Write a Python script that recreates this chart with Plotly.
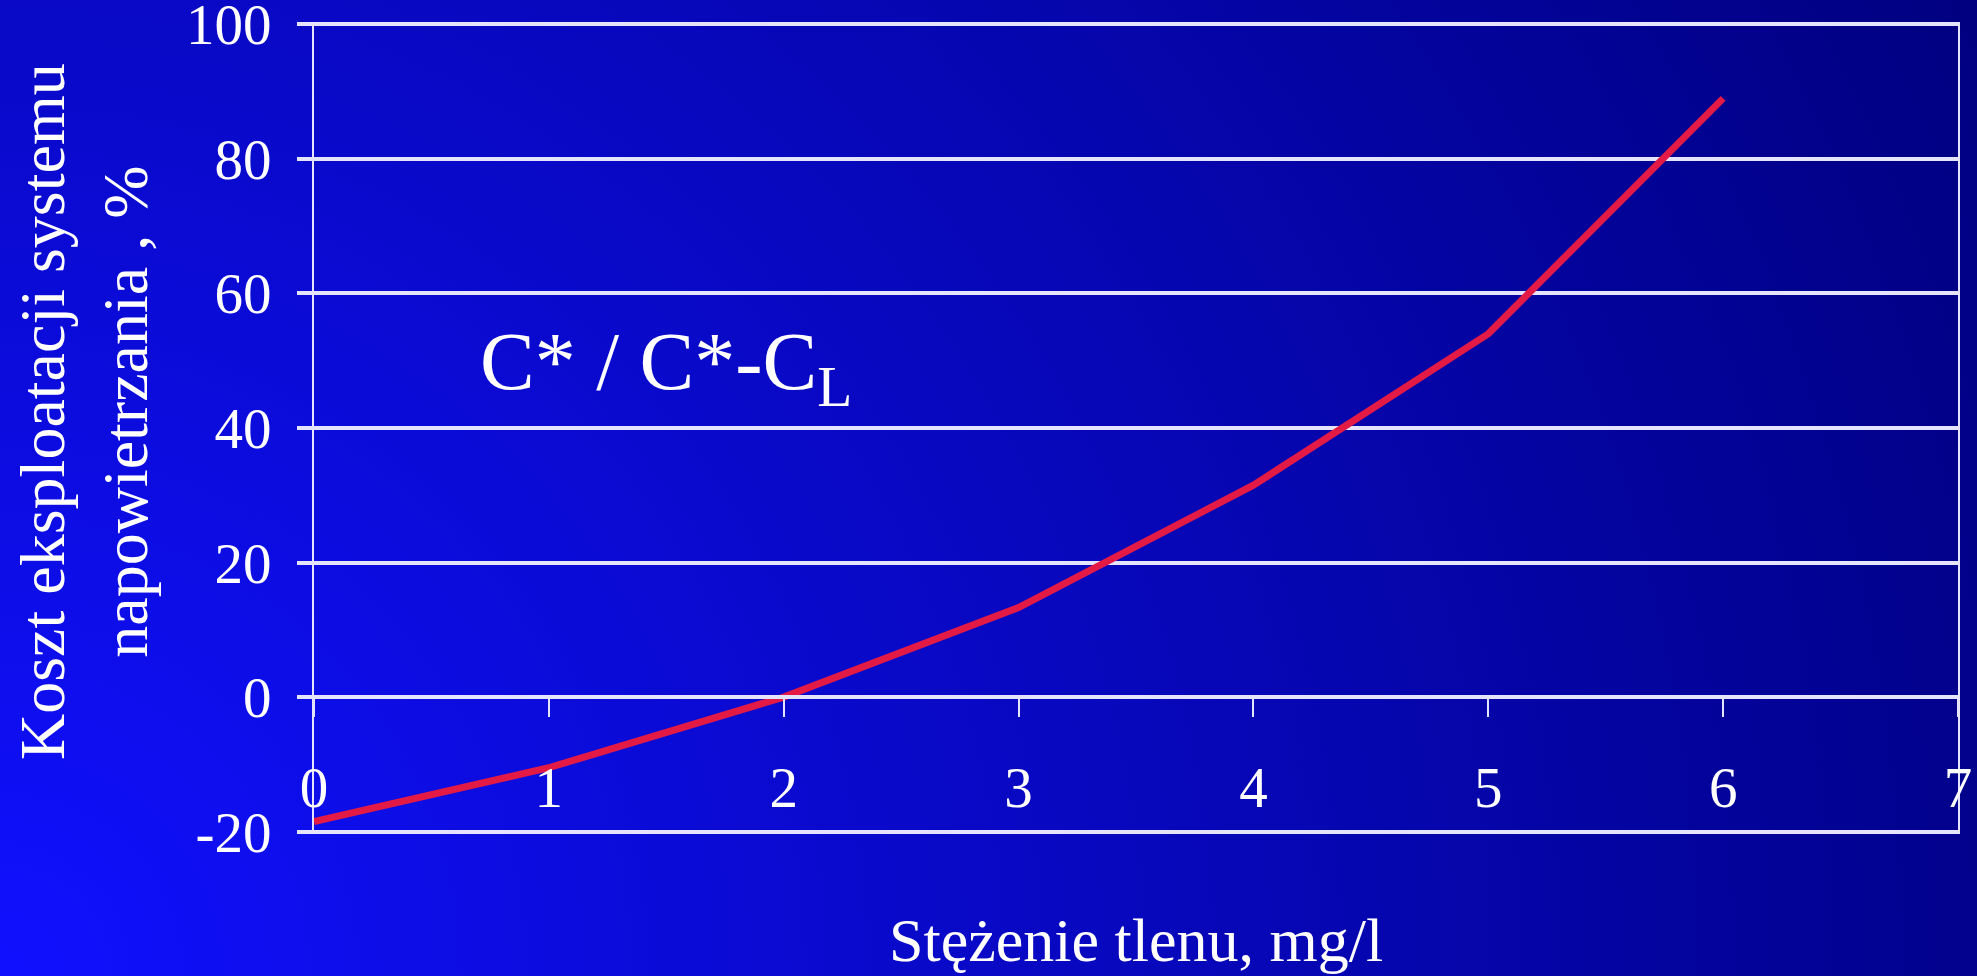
import base64
import plotly.graph_objects as go

# ---- data ----
oxygen = [0, 1, 2, 3, 4, 5, 6]
cost_pct = [-18.5, -10.5, 0, 13.3, 31.5, 54, 89]
x_ticks = [0, 1, 2, 3, 4, 5, 6, 7]
y_ticks = [-20, 0, 20, 40, 60, 80, 100]
y_tick_text = ["-20", "0", "20", "40", "60", "80", "100"]

W, H = 1977, 976

# background gradient (bright blue bottom-left -> navy top-right)
svg = f'''<svg xmlns="http://www.w3.org/2000/svg" width="{W}" height="{H}" viewBox="0 0 {W} {H}" preserveAspectRatio="none">
<defs><radialGradient id="g" gradientUnits="userSpaceOnUse" cx="0" cy="{H}" r="2205">
<stop offset="0" stop-color="#1010ff"/><stop offset="1" stop-color="#000080"/></radialGradient></defs>
<rect x="0" y="0" width="{W}" height="{H}" fill="url(#g)"/></svg>'''
bg_uri = "data:image/svg+xml;base64," + base64.b64encode(svg.encode()).decode()

FONT = "Liberation Serif, Times New Roman, serif"
GRID = "#e4e4ff"

PAD = 0.35  # small range padding so the edge gridlines are kept
x_dom = [314 / W, 1958 / W]
y_dom = [1 - 834 / H, 1 - 22 / H]
y_range = [-20 - PAD, 100 + PAD]
zero_pos = y_dom[0] + (0 - y_range[0]) / (y_range[1] - y_range[0]) * (y_dom[1] - y_dom[0])

fig = go.Figure()
fig.add_trace(go.Scatter(
    x=oxygen, y=cost_pct, mode="lines",
    line=dict(color="#e31a45", width=7),
    hoverinfo="skip", showlegend=False,
))

fig.update_layout(
    width=W, height=H,
    margin=dict(l=0, r=0, t=0, b=0),
    paper_bgcolor="#0000c0",
    plot_bgcolor="rgba(0,0,0,0)",
    font=dict(family=FONT, color="white"),
    images=[dict(source=bg_uri, xref="paper", yref="paper", x=0, y=1,
                 sizex=1, sizey=1, xanchor="left", yanchor="top",
                 sizing="stretch", layer="below")],
    xaxis=dict(
        domain=x_dom, range=[0, 7], tickvals=x_ticks,
        anchor="free", position=zero_pos,
        showgrid=False, zeroline=False,
        showline=True, linecolor=GRID, linewidth=4,
        ticks="outside", ticklen=18, tickwidth=2, tickcolor=GRID,
        ticklabelstandoff=22, ticklabeloverflow="allow",
        tickfont=dict(family=FONT, size=57, color="white"),
        automargin=False,
    ),
    yaxis=dict(
        domain=y_dom, range=y_range, tickvals=y_ticks, ticktext=y_tick_text,
        showgrid=True, gridcolor=GRID, gridwidth=4,
        zeroline=False,
        showline=True, linecolor=GRID, linewidth=2, mirror=True,
        ticks="outside", ticklen=15, tickwidth=4, tickcolor=GRID,
        ticklabelstandoff=14, ticklabeloverflow="allow",
        tickfont=dict(family=FONT, size=57, color="white"),
        automargin=False,
    ),
    annotations=[
        dict(text="Koszt eksploatacji systemu<br>napowietrzania , %",
             xref="paper", yref="paper", x=84 / W, y=1 - 412 / H,
             xanchor="center", yanchor="middle", textangle=-90,
             showarrow=False, font=dict(family=FONT, size=64, color="white")),
        dict(text="Stężenie tlenu, mg/l",
             xref="paper", yref="paper", x=(x_dom[0] + x_dom[1]) / 2, y=1 - 940 / H,
             xanchor="center", yanchor="middle",
             showarrow=False, font=dict(family=FONT, size=62, color="white")),
        dict(text="C* / C*-C<sub>L</sub>",
             xref="x", yref="y", x=0.7, y=49,
             xanchor="left", yanchor="middle",
             showarrow=False, font=dict(family=FONT, size=82, color="white")),
    ],
)

fig.write_html(
    "out.html",
    config={"displayModeBar": False},
    post_script="document.body.style.margin='0';document.body.style.overflow='hidden';",
)
